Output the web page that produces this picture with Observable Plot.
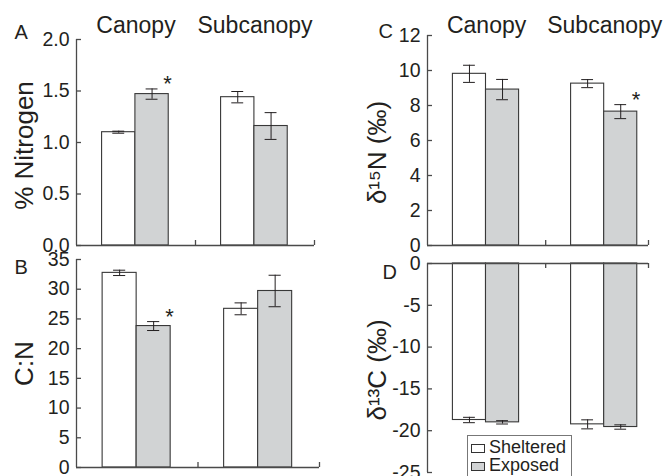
<!DOCTYPE html>
<html>
<head>
<meta charset="utf-8">
<script src="https://cdn.jsdelivr.net/npm/d3@7"></script>
<script src="https://cdn.jsdelivr.net/npm/@observablehq/plot@0.6"></script>
<style>
  body { margin: 0; background: #fff; }
  #chart { position: relative; width: 670px; height: 476px; overflow: hidden; background: #fff;
           font-family: "Liberation Sans", Arial, Helvetica, sans-serif; color: #231f20; }
  .legend { position: absolute; left: 467px; top: 435px; width: 105px; height: 60px; box-sizing: border-box;
            border: 1px solid #777; background: #fff; padding: 2px 0 0 3px; font-size: 18px; line-height: 18px; }
  .legend .row { white-space: nowrap; height: 18px; }
  .legend .sw { display: inline-block; width: 14px; height: 9px; box-sizing: border-box; border: 1px solid #333;
                margin-right: 4px; vertical-align: baseline; }
</style>
</head>
<body>
<div id="chart"></div>
<script>
// ---- data (order within each array: Canopy-Sheltered, Canopy-Exposed, Subcanopy-Sheltered, Subcanopy-Exposed)
const groups = ["Canopy", "Subcanopy"];
const treatments = ["Sheltered", "Exposed"];
const fills = ["#ffffff", "#d1d3d4"];

const nitrogenMean = [1.10, 1.47, 1.44, 1.16];
const nitrogenSE   = [0.01, 0.05, 0.055, 0.13];
const nitrogenStar = ["", "*", "", ""];
const nitrogenTicks = [0, 0.5, 1.0, 1.5, 2.0];

const cnMean = [32.75, 23.8, 26.7, 29.7];
const cnSE   = [0.45, 0.75, 1.0, 2.65];
const cnStar = ["", "*", "", ""];
const cnTicks = [0, 5, 10, 15, 20, 25, 30, 35];

const d15nMean = [9.81, 8.91, 9.25, 7.65];
const d15nSE   = [0.49, 0.58, 0.23, 0.40];
const d15nStar = ["", "", "", "*"];
const d15nTicks = [0, 2, 4, 6, 8, 10, 12];

const d13cMean = [-18.72, -19.0, -19.24, -19.56];
const d13cSE   = [0.32, 0.20, 0.54, 0.26];
const d13cStar = ["", "", "", ""];
const d13cTicks = [0, -5, -10, -15, -20, -25];

// ---- styling / layout
const FONT = '"Liberation Sans", Arial, Helvetica, sans-serif';
const INK = "#231f20", AXIS = "#4a4a4a", EDGE = "#383838";
const BAR0 = 0.215, BARW = 0.28, CAP = 0.05;

function rows(mean, se, star) {
  return groups.flatMap((g, gi) => treatments.map((t, ti) => {
    const k = gi * 2 + ti;
    return {group: g, treatment: t, gi, ti, mean: mean[k], se: se[k], star: star[k]};
  }));
}
const bx1 = d => d.gi + BAR0 + d.ti * BARW;
const bx2 = d => bx1(d) + BARW;
const bxc = d => bx1(d) + BARW / 2;

const chart = document.getElementById("chart");

function makePanel(o) {
  const data = rows(o.mean, o.se, o.star);
  const plotW = o.width - o.ml - o.mr, plotH = o.height - o.mt - o.mb;
  const marks = [
    Plot.rect(data, {x1: bx1, x2: bx2, y1: () => 0, y2: "mean", fill: "treatment", stroke: EDGE, strokeWidth: 1.1}),
    Plot.ruleX(data, {x: bxc, y1: d => d.mean - d.se, y2: d => d.mean + d.se, stroke: INK, strokeWidth: 1}),
    Plot.ruleY(data, {y: d => d.mean - d.se, x1: d => bxc(d) - CAP, x2: d => bxc(d) + CAP, stroke: INK, strokeWidth: 1}),
    Plot.ruleY(data, {y: d => d.mean + d.se, x1: d => bxc(d) - CAP, x2: d => bxc(d) + CAP, stroke: INK, strokeWidth: 1}),
    Plot.ruleX([0], {x: d => d, stroke: AXIS, strokeWidth: 1.3}),
    Plot.ruleY([0], {y: d => d, stroke: AXIS, strokeWidth: 1.3}),
    Plot.tickX([1, o.xEnd], {x: d => d, stroke: AXIS, strokeWidth: 1.3,
      insetTop: o.axisTop ? 0 : plotH - 5, insetBottom: o.axisTop ? plotH - 5 : 0}),
    Plot.tickY(o.ticks, {y: d => d, stroke: AXIS, strokeWidth: 1.3, insetRight: plotW - 5}),
    Plot.text(o.ticks, {y: d => d, text: o.fmt, frameAnchor: "left", textAnchor: "end", dx: -7,
      fontSize: 19.5, fill: INK}),
    Plot.text(data.filter(d => d.star), {x: d => bx2(d) - 0.01, y: d => d.mean + d.se, text: "star",
      textAnchor: "middle", lineAnchor: "bottom", dy: 2, fontSize: 22, fill: INK}),
    Plot.text([o.letter], {text: d => d, frameAnchor: "top-left", textAnchor: "start", lineAnchor: "bottom",
      dx: o.letterDx, dy: o.letterDy, fontSize: 20, fill: INK}),
    Plot.text([o.label], {text: d => d, frameAnchor: "left", textAnchor: "middle", lineAnchor: "middle",
      rotate: -90, dx: o.labelDx, dy: o.labelDy, fontSize: 26, fill: INK})
  ];
  if (o.headers) {
    marks.push(Plot.text(groups, {x: (d, i) => i + 0.5, text: d => d, frameAnchor: "top", textAnchor: "middle",
      lineAnchor: "bottom", dy: o.headerDy, fontSize: 23, fill: INK}));
  }
  const svg = Plot.plot({
    width: o.width, height: o.height,
    marginTop: o.mt, marginRight: o.mr, marginBottom: o.mb, marginLeft: o.ml,
    x: {type: "linear", domain: [0, o.xEnd], axis: null},
    y: {type: "linear", domain: o.domain, axis: null},
    color: {domain: treatments, range: fills},
    style: {fontFamily: FONT, color: INK, background: "transparent", overflow: "visible"},
    marks
  });
  svg.style.position = "absolute";
  svg.style.left = o.left + "px";
  svg.style.top = o.top + "px";
  chart.appendChild(svg);
}

makePanel({mean: nitrogenMean, se: nitrogenSE, star: nitrogenStar, ticks: nitrogenTicks, fmt: d => d.toFixed(1),
  domain: [0, 2], xEnd: 2, letter: "A", label: "% Nitrogen", headers: true,
  left: 0, top: 0, width: 335, height: 252, mt: 39, mr: 21, mb: 7, ml: 76,
  letterDx: -62, letterDy: -1, labelDx: -52, labelDy: 3, headerDy: -7, axisTop: false});

makePanel({mean: cnMean, se: cnSE, star: cnStar, ticks: cnTicks, fmt: d => String(d),
  domain: [0, 35], xEnd: 2, letter: "B", label: "C:N", headers: false,
  left: 0, top: 252, width: 335, height: 224, mt: 7, mr: 16, mb: 9, ml: 76,
  letterDx: -62, letterDy: 14, labelDx: -52, labelDy: 0, axisTop: false});

makePanel({mean: d15nMean, se: d15nSE, star: d15nStar, ticks: d15nTicks, fmt: d => String(d),
  domain: [0, 12], xEnd: 1.87, letter: "C", label: "δ\u00B9\u2075N (‰)", headers: true,
  left: 335, top: 0, width: 335, height: 252, mt: 35, mr: 22, mb: 7, ml: 92,
  letterDx: -49, letterDy: 2, labelDx: -50, labelDy: 12, headerDy: -3, axisTop: false});

makePanel({mean: d13cMean, se: d13cSE, star: d13cStar, ticks: d13cTicks, fmt: d => String(d),
  domain: [-25, 0], xEnd: 1.87, letter: "D", label: "δ\u00B9\u00B3C (‰)", headers: false,
  left: 335, top: 252, width: 335, height: 224, mt: 11, mr: 22, mb: 4, ml: 92,
  letterDx: -45, letterDy: 15, labelDx: -50, labelDy: 2, axisTop: true});

// legend
const legend = document.createElement("div");
legend.className = "legend";
treatments.forEach((t, i) => {
  const row = document.createElement("div");
  row.className = "row";
  const sw = document.createElement("span");
  sw.className = "sw";
  sw.style.background = fills[i];
  row.appendChild(sw);
  row.appendChild(document.createTextNode(t));
  legend.appendChild(row);
});
chart.appendChild(legend);
</script>
</body>
</html>
